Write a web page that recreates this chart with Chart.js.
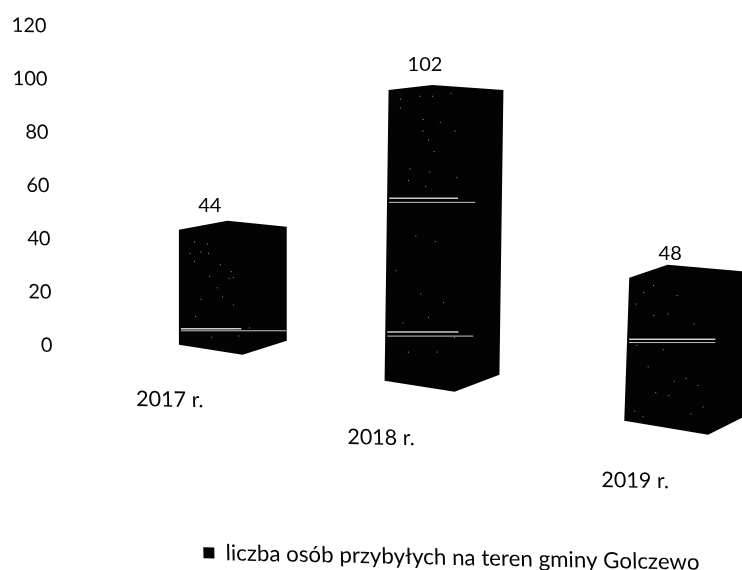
<!DOCTYPE html>
<html>
<head>
<meta charset="utf-8">
<style>html,body{margin:0;padding:0;background:#fff}canvas{display:block}</style>
<script src="https://cdn.jsdelivr.net/npm/chart.js@4"></script>
</head>
<body>
<canvas id="c" width="742" height="570"></canvas>
<script>
const categories = ['2017 r.', '2018 r.', '2019 r.'];
const seriesName = 'liczba osób przybyłych na teren gminy Golczewo';
const seriesValues = [44, 102, 48];
const axisMax = 120, axisStep = 20;

const FONT = 'Lato, sans-serif';
const INK = '#030303';
const TEXT = '#050505';
const SHEAR = {a: 0.02, b: 0.019};

// Scan/3D view of each column (styling only; heights come from the y scale)
const view = [
  {dx: 73, drop: 0,  k: 0.98, widen: 0, lean: 0,
   top: [0.45, -9, -3], bottom: [0.59, 10, -4], streaks: [[0.145, 0, 0.56, 2], [0.125, 0, 0.98, 1]],
   specks: [[.14,.1],[.26,.12],[.1,.2],[.2,.19],[.27,.2],[.14,.27],[.38,.3],[.48,.36],[.5,.41],[.28,.4],[.46,.42],[.35,.5],[.2,.6],[.4,.58],[.5,.65],[.15,.75],[.3,.93],[.55,.92],[.65,.85]],
   lab: [-23, -24], cat: [-63, 55]},
  {dx: 66.5, drop: 36, k: 1.07, widen: 7,  lean: 4,
   top: [0.38, -5, 0],  bottom: [0.61, 11, -6], streaks: [[0.63, 0, 0.6, 2], [0.615, 0, 0.75, 1], [0.17, 0, 0.62, 2], [0.155, 0, 0.75, 1]],
   specks: [[.1,.03],[.27,.02],[.38,.02],[.54,.01],[.1,.06],[.3,.1],[.45,.11],[.3,.14],[.58,.14],[.35,.17],[.4,.21],[.19,.27],[.36,.28],[.18,.31],[.33,.33],[.6,.3],[.25,.5],[.42,.52],[.08,.62],[.3,.7],[.5,.73],[.15,.8],[.37,.78],[.6,.85],[.45,.9],[.2,.9]],
   lab: [-17, -25], cat: [-61, 57]},
  {dx: 93, drop: 76, k: 1.117, widen: 12,  lean: 5,
   top: [0.32, -13, -6], bottom: [0.7, 14, -4], streaks: [[0.575, 0, 0.72, 2], [0.55, 0, 0.72, 1]],
   specks: [[.12,.1],[.2,.05],[.4,.12],[.06,.18],[.33,.25],[.21,.26],[.55,.32],[.08,.47],[.3,.5],[.18,.62],[.4,.72],[.5,.7],[.6,.75],[.25,.8],[.36,.82],[.65,.9],[.08,.93],[.55,.95],[.15,.97]],
   lab: [-14, -24], cat: [-49, 60]}
];

const scene = {
  id: 'scene',
  beforeDraw(chart) {
    const ctx = chart.ctx;
    ctx.save();
    ctx.transform(1, SHEAR.a, SHEAR.b, 1, 0, 0);
  },
  afterDraw(chart) {
    chart.ctx.restore();
  },
  beforeDatasetDraw(chart, args) {
    const ctx = chart.ctx;
    const els = chart.getDatasetMeta(args.index).data;
    const xs = chart.scales.x;
    ctx.save();
    ctx.setTransform(1, 0, 0, 1, 0, 0);
    els.forEach((el, i) => {
      const v = view[i];
      const cx = el.x + v.dx, w = el.width + v.widen;
      const yBot = el.base + v.drop;
      const yTop = yBot - (el.base - el.y) * v.k;
      const topL = cx - w / 2 + v.lean, botL = cx - w / 2;
      ctx.beginPath();
      ctx.moveTo(topL, yTop);
      ctx.lineTo(topL + w * v.top[0], yTop + v.top[1]);
      ctx.lineTo(topL + w, yTop + v.top[2]);
      ctx.lineTo(botL + w, yBot + v.bottom[2]);
      ctx.lineTo(botL + w * v.bottom[0], yBot + v.bottom[1]);
      ctx.lineTo(botL, yBot);
      ctx.closePath();
      ctx.fillStyle = el.options.backgroundColor;
      ctx.fill();

      // pale scan streaks across the column
      v.streaks.forEach(s => {
        const y = yBot + (yTop - yBot) * s[0];
        const lerp = v.lean * s[0];
        ctx.fillStyle = 'rgba(240,240,240,0.9)';
        ctx.fillRect(botL + lerp + w * s[1] + 2, y, w * (s[2] - s[1]), s[3] === 2 ? 1.4 : 0.9);
      });

      // scan specks
      ctx.fillStyle = 'rgba(190,190,190,0.8)';
      v.specks.forEach(p => {
        ctx.fillRect(botL + v.lean * (1 - p[1]) + w * p[0], yTop + (yBot - yTop) * p[1], 1, 1);
      });

      ctx.fillStyle = TEXT;
      ctx.font = '20px ' + FONT;
      ctx.textAlign = 'center';
      ctx.textBaseline = 'middle';
      ctx.fillText(String(seriesValues[i]), cx + v.lab[0], yTop + v.lab[1]);

      ctx.font = '21.5px ' + FONT;
      ctx.save();
      ctx.translate(xs.getPixelForTick(i) + v.dx + v.cat[0], yBot + v.cat[1]);
      ctx.transform(1, SHEAR.a, SHEAR.b, 1, 0, 0);
      ctx.fillText(categories[i], 0, 0);
      ctx.restore();
    });
    ctx.restore();
    return false;
  }
};

new Chart(document.getElementById('c'), {
  type: 'bar',
  data: {
    labels: categories,
    datasets: [{
      label: seriesName,
      data: seriesValues,
      backgroundColor: INK,
      barPercentage: 0.5,
      categoryPercentage: 1
    }]
  },
  options: {
    responsive: false,
    animation: false,
    layout: {padding: {top: 25, right: 43, bottom: 0, left: 0}},
    plugins: {
      tooltip: {enabled: false},
      legend: {
        position: 'bottom',
        align: 'end',
        labels: {
          boxWidth: 11, boxHeight: 11,
          color: TEXT,
          font: {family: FONT, size: 22.3}
        }
      }
    },
    scales: {
      x: {
        afterFit(scale) { scale.height = 183; },
        grid: {display: false},
        border: {display: false},
        ticks: {display: false}
      },
      y: {
        min: 0, max: axisMax,
        afterFit(scale) { scale.width = 52; },
        grid: {display: false, drawTicks: false},
        border: {display: false},
        ticks: {
          stepSize: axisStep,
          padding: 6,
          color: TEXT,
          font: {family: FONT, size: 20}
        }
      }
    }
  },
  plugins: [scene]
});
</script>
</body>
</html>
